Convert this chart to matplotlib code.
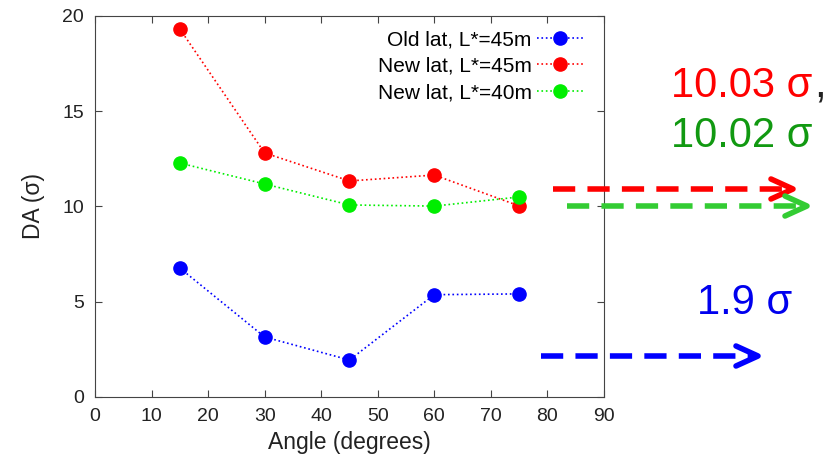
import matplotlib
matplotlib.use("Agg")
import matplotlib.pyplot as plt
from matplotlib.lines import Line2D

plt.rcParams['font.family'] = ['Liberation Sans', 'DejaVu Sans']

angles = [15, 30, 45, 60, 75]
old_45 = [6.77, 3.15, 1.94, 5.37, 5.41]
new_45 = [19.32, 12.81, 11.34, 11.65, 10.03]
new_40 = [12.28, 11.18, 10.08, 10.02, 10.50]
labels = ["Old lat, L*=45m", "New lat, L*=45m", "New lat, L*=40m"]
colors = ["#0000ff", "#ff0000", "#00ee00"]
xticks = list(range(0, 91, 10))
yticks = [0, 5, 10, 15, 20]

fig = plt.figure(figsize=(8.28, 4.54), dpi=100)
ax = fig.add_axes([0.1147, 0.1256, 0.6147, 0.8392])

for ys, lab, c in zip([old_45, new_45, new_40], labels, colors):
    ax.plot(angles, ys, linestyle=':', color=c, lw=1.2, marker='o',
            markersize=9.5, label=lab)

ax.set_xlim(0, 90)
ax.set_ylim(0, 20)
ax.set_xticks(xticks)
ax.set_yticks(yticks)
ax.tick_params(direction='in', top=True, right=True, labelsize=14,
               length=5, color='#444444', labelcolor='#222222')
ax.tick_params(axis='x', pad=8)
ax.tick_params(axis='y', pad=8)
for s in ax.spines.values():
    s.set_color('#444444')
ax.set_xlabel("Angle (degrees)", fontsize=16.5, labelpad=4, color='#222222')
ax.set_ylabel("DA (σ)", fontsize=16.5, labelpad=12, color='#222222')

leg = ax.legend(loc='upper right', bbox_to_anchor=(0.975, 0.985),
                borderaxespad=0, frameon=False, markerfirst=False,
                fontsize=15, handlelength=2.2, handletextpad=0.25,
                labelspacing=0.36)

# annotations outside axes (figure pixel coords)
W, H = 828, 454
def arrow(x0, x1, y, color):
    fy = 1 - y / H
    fig.add_artist(Line2D([x0 / W, (x1 - 6) / W], [fy, fy], color=color, lw=4,
                          linestyle=(0, (4, 2.2)), transform=fig.transFigure))
    fig.add_artist(Line2D([(x1 - 22) / W, x1 / W, (x1 - 22) / W],
                          [fy + 10 / H, fy, fy - 10 / H], color=color, lw=4,
                          solid_capstyle='round', transform=fig.transFigure))

arrow(553, 793, 189, '#ff0000')
arrow(567, 807, 206, '#33cc33')
arrow(541, 758, 356, '#0000ff')

fig.text(671 / W, 1 - 97 / H, "10.03 σ", color='#ff0000', fontsize=30)
fig.text(814 / W, 1 - 97 / H, ",", color='#222222', fontsize=30)
fig.text(671 / W, 1 - 147 / H, "10.02 σ", color='#119911', fontsize=30)
fig.text(697 / W, 1 - 314 / H, "1.9 σ", color='#0000ee', fontsize=30)

fig.savefig("out.png", dpi=100)
